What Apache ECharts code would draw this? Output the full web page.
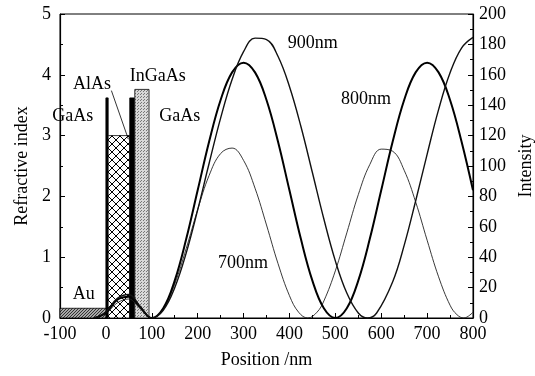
<!DOCTYPE html>
<html>
<head>
<meta charset="utf-8">
<script src="https://cdn.jsdelivr.net/npm/echarts@6/dist/echarts.min.js"></script>
<style>
  html, body { margin: 0; padding: 0; background: #fff; }
  #chart { width: 535px; height: 376px; }
</style>
</head>
<body>
<div id="chart"></div>
<script>
// layer stack (refractive index, left axis)
const layerNames = ['Au', 'GaAs', 'AlAs', 'GaAs', 'InGaAs'];
const layerStart = [-100, 0, 5, 52, 63];
const layerEnd = [2, 5, 52, 62, 94];
const layerIndex = [0.16, 3.62, 3.0, 3.62, 3.76];

// field intensity (right axis)
const pos700 = [-25, 0, 25, 50, 75, 100, 125, 150, 175, 200, 225, 250, 275, 300, 325, 350, 375, 400, 420, 440, 460, 475, 500, 525, 550, 575, 600, 625, 650, 675, 700, 725, 750, 765, 780, 800];
const int700 = [0, 3, 10, 12.5, 6, 0, 5.9, 22.3, 45.7, 71.3, 93.8, 108.2, 111.8, 103.7, 85.4, 61.2, 35.9, 14.7, 3.8, 0, 3.8, 11.2, 31, 56, 81.1, 100.9, 111.1, 109.7, 97.2, 76.4, 51.2, 27.1, 8.4, 2.2, 0, 3.8];

const pos800 = [-25, 0, 25, 50, 75, 100, 125, 150, 175, 200, 225, 250, 275, 300, 325, 350, 375, 400, 425, 450, 475, 500, 525, 550, 575, 600, 625, 650, 675, 700, 725, 750, 775, 800];
const int800 = [0, 3.5, 12, 14, 7, 0, 6.4, 24.6, 51.9, 84, 116.1, 143.4, 161.6, 168, 161.6, 143.4, 116.1, 84, 51.9, 24.6, 6.4, 0, 6.4, 24.6, 51.9, 84, 116.1, 143.4, 161.6, 168, 161.6, 143.4, 116.1, 84];

const pos900 = [-25, 0, 25, 50, 75, 100, 125, 150, 175, 200, 225, 250, 275, 300, 325, 350, 375, 400, 425, 450, 475, 500, 525, 550, 570, 590, 625, 650, 675, 700, 725, 750, 775, 800];
const int900 = [0, 4, 13, 15.5, 7.5, 0, 5.1, 19.9, 42.7, 71.1, 101.8, 131.5, 156.9, 175.2, 184.1, 183.2, 172.2, 152.3, 126, 95.7, 65.1, 37.6, 16.4, 3.3, 0, 3.3, 23.9, 47.8, 77, 107.7, 137.1, 161.3, 177.6, 184.6];

// annotations in data coordinates (x in nm, y on refractive index axis)
const noteText = ['Au', 'GaAs', 'AlAs', 'InGaAs', 'GaAs', '900nm', '800nm', '700nm'];
const notePos = [-48, -72, -30, 113, 161, 451, 567, 299];
const noteVal = [0.39, 3.31, 3.85, 3.98, 3.31, 4.52, 3.59, 0.9];
const leaderPos = [12, 49];
const leaderVal = [3.74, 2.94];

const FONT = "'Liberation Serif', 'Times New Roman', serif";

function makePattern(size, draw) {
  const c = document.createElement('canvas');
  c.width = size;
  c.height = size;
  draw(c.getContext('2d'), size);
  return { image: c, repeat: 'repeat' };
}

const auFill = makePattern(3, (g, s) => {
  g.fillStyle = '#a8a8a8';
  g.fillRect(0, 0, s, s);
  g.fillStyle = '#333';
  for (let i = 0; i < s; i++) g.fillRect(i, s - 1 - i, 1, 1);
});
const crossFill = makePattern(8, (g, s) => {
  g.fillStyle = '#fff';
  g.fillRect(0, 0, s, s);
  g.strokeStyle = '#000';
  g.lineWidth = 1;
  g.beginPath();
  g.moveTo(0, 0); g.lineTo(s, s);
  g.moveTo(s, 0); g.lineTo(0, s);
  g.stroke();
});
const dotFill = makePattern(3, (g, s) => {
  g.fillStyle = '#d8d8d8';
  g.fillRect(0, 0, s, s);
  g.fillStyle = '#777';
  g.fillRect(0, 0, 1, 1);
  g.fillRect(2, 1, 1, 1);
});
const layerFills = [auFill, '#000', crossFill, '#000', dotFill];

const layerData = layerNames.map((n, i) => [layerStart[i], layerEnd[i], layerIndex[i]]);
const noteData = noteText.map((t, i) => [notePos[i], noteVal[i]]);

const chart = echarts.init(document.getElementById('chart'), null, { renderer: 'canvas' });

const axisText = { color: '#000', fontFamily: FONT, fontSize: 18 };

function curve(xs, ys, width, color) {
  return {
    type: 'line',
    yAxisIndex: 1,
    z: 3,
    smooth: 0.4,
    showSymbol: false,
    lineStyle: { color: color, width: width },
    data: xs.map((x, i) => [x, ys[i]]),
  };
}

chart.setOption({
  animation: false,
  grid: {
    left: 60, right: 62, top: 14, bottom: 58,
    outerBoundsMode: 'none',
    show: true, borderColor: '#000', borderWidth: 1,
  },
  xAxis: {
    type: 'value',
    min: -100,
    max: 800,
    interval: 100,
    name: 'Position /nm',
    nameLocation: 'middle',
    nameGap: 33,
    nameTextStyle: axisText,
    axisLine: { onZero: false, lineStyle: { color: '#000', width: 1.2 } },
    axisTick: { inside: true, length: 5, lineStyle: { color: '#000' } },
    minorTick: { show: true, splitNumber: 2, length: 3, lineStyle: { color: '#000' } },
    axisLabel: Object.assign({ margin: 7 }, axisText),
    splitLine: { show: false },
  },
  yAxis: [
    {
      type: 'value',
      min: 0,
      max: 5,
      interval: 1,
      name: 'Refractive index',
      nameLocation: 'middle',
      nameGap: 29,
      nameTextStyle: axisText,
      axisLine: { show: true, onZero: false, lineStyle: { color: '#000', width: 1.2 } },
      axisTick: { inside: true, length: 5, lineStyle: { color: '#000' } },
      minorTick: { show: true, splitNumber: 2, length: 3, lineStyle: { color: '#000' } },
      axisLabel: Object.assign({ margin: 9 }, axisText),
      splitLine: { show: false },
    },
    {
      type: 'value',
      min: 0,
      max: 200,
      interval: 20,
      position: 'right',
      name: 'Intensity',
      nameLocation: 'middle',
      nameGap: 41,
      nameTextStyle: axisText,
      axisLine: { show: true, onZero: false, lineStyle: { color: '#000', width: 1.2 } },
      axisTick: { inside: true, length: 5, lineStyle: { color: '#000' } },
      minorTick: { show: true, splitNumber: 2, length: 3, lineStyle: { color: '#000' } },
      axisLabel: Object.assign({ margin: 6 }, axisText),
      splitLine: { show: false },
    },
  ],
  series: [
    {
      type: 'custom',
      yAxisIndex: 0,
      z: 1,
      silent: true,
      data: layerData,
      renderItem: (params, api) => {
        const p0 = api.coord([api.value(0), api.value(2)]);
        const p1 = api.coord([api.value(1), 0]);
        return {
          type: 'rect',
          shape: { x: p0[0], y: p0[1], width: p1[0] - p0[0], height: p1[1] - p0[1] },
          style: { fill: layerFills[params.dataIndex], stroke: '#000', lineWidth: 0.8 },
        };
      },
    },
    curve(pos700, int700, 0.9, '#222'),
    curve(pos800, int800, 2, '#000'),
    curve(pos900, int900, 1.4, '#111'),
    {
      type: 'custom',
      yAxisIndex: 0,
      z: 5,
      silent: true,
      data: noteData,
      renderItem: (params, api) => {
        const p = api.coord([api.value(0), api.value(1)]);
        return {
          type: 'text',
          x: p[0],
          y: p[1],
          style: {
            text: noteText[params.dataIndex],
            fill: '#000',
            font: '18px ' + FONT,
            align: 'center',
            verticalAlign: 'middle',
          },
        };
      },
    },
    {
      type: 'custom',
      yAxisIndex: 0,
      z: 5,
      silent: true,
      data: [[leaderPos[0], leaderVal[0], leaderPos[1], leaderVal[1]]],
      renderItem: (params, api) => {
        const a = api.coord([api.value(0), api.value(1)]);
        const b = api.coord([api.value(2), api.value(3)]);
        return {
          type: 'line',
          shape: { x1: a[0], y1: a[1], x2: b[0], y2: b[1] },
          style: { stroke: '#000', lineWidth: 0.8 },
        };
      },
    },
  ],
});
</script>
</body>
</html>
